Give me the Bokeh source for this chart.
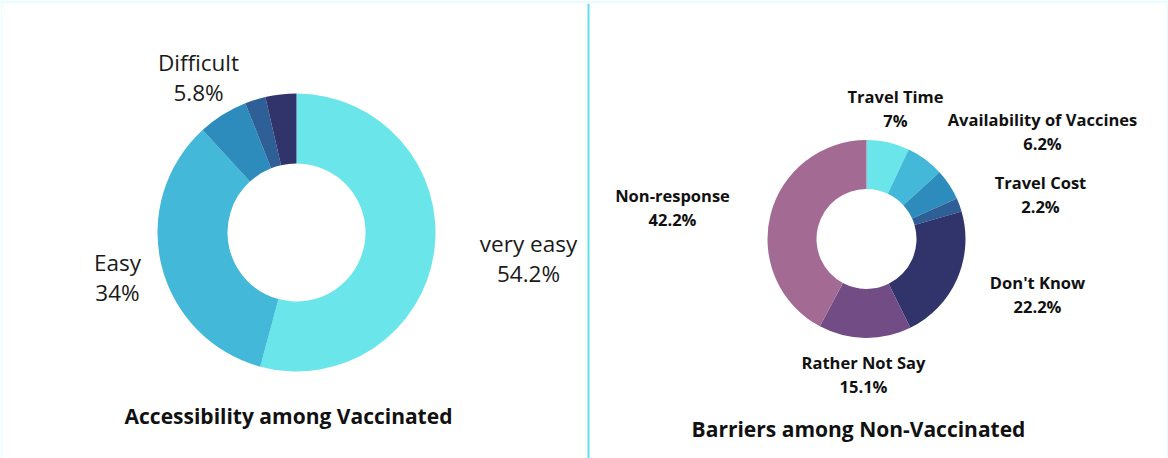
import math
from bokeh.plotting import figure
from bokeh.models import Range1d, Span, ColumnDataSource
from bokeh.core.properties import value
from bokeh.embed import file_html
from bokeh.resources import INLINE

# Accessibility among vaccinated respondents (clockwise from 12 o'clock)
access_labels = ["very easy", "Easy", "Difficult", "", ""]
access_values = [54.2, 34.0, 5.8, 2.4, 3.6]
access_colors = ["#6ae5e9", "#43b8d8", "#2e8cbc", "#2e5f96", "#31346b"]

# Barriers among non-vaccinated respondents (clockwise from 12 o'clock)
barrier_labels = ["Travel Time", "Availability of Vaccines", "", "Travel Cost",
                  "Don't Know", "Rather Not Say", "Non-response"]
barrier_values = [7.0, 6.2, 5.1, 2.2, 22.2, 15.1, 42.2]
barrier_colors = ["#6ae5e9", "#43b8d8", "#2e8cbc", "#2e5f96",
                  "#31346b", "#714c85", "#a36b93"]

W, H = 1168, 458
FONT = "Open Sans"


def sy(y_px):
    # convert a top-down pixel position into the figure's bottom-up y
    return H - y_px


def wedge_source(values, colors, cx, cy):
    total = sum(values)
    starts, ends = [], []
    cum = 0.0
    for v in values:
        starts.append(math.pi / 2 - 2 * math.pi * cum / total)
        cum += v
        ends.append(math.pi / 2 - 2 * math.pi * cum / total)
    return ColumnDataSource(dict(
        x=[cx] * len(values), y=[cy] * len(values),
        start=starts, end=ends, color=colors,
    ))


p = figure(width=W, height=H, output_backend="svg", toolbar_location=None,
           x_range=Range1d(2, W - 2), y_range=Range1d(0, H - 3),
           min_border_left=2, min_border_right=2, min_border_top=3,
           min_border_bottom=0, border_fill_color="#eafcfd",
           background_fill_color="white", outline_line_color=None)
p.axis.visible = False
p.grid.visible = False

# vertical divider between the two panels
p.add_layout(Span(location=588, dimension="height", line_color="#62dfe8",
                  line_width=2))

# left donut
left = wedge_source(access_values, access_colors, 296, sy(232))
p.annular_wedge(x="x", y="y", inner_radius=69, outer_radius=139,
                start_angle="start", end_angle="end", direction="clock",
                fill_color="color", line_color=None, source=left)

# right donut
right = wedge_source(barrier_values, barrier_colors, 866, sy(238.5))
p.annular_wedge(x="x", y="y", inner_radius=50, outer_radius=99,
                start_angle="start", end_angle="end", direction="clock",
                fill_color="color", line_color=None, source=right)

# left labels: name line, value line, placed around the ring
left_pos = {"very easy": (528, 243), "Easy": (117, 262), "Difficult": (198, 62)}
lx, ly, lt = [], [], []
for name, val in zip(access_labels, access_values):
    if name in left_pos:
        x0, y0 = left_pos[name]
        lx += [x0, x0]
        ly += [sy(y0), sy(y0 + 30)]
        lt += [name, f"{val:g}%"]
p.text(x=lx, y=ly, text=lt, text_font=value(FONT), text_font_size="22.5px",
       text_color="#1a1a1a", text_align="center", text_baseline="middle")

right_pos = {
    "Travel Time": (895, 96),
    "Availability of Vaccines": (1042, 119),
    "Travel Cost": (1040, 182),
    "Don't Know": (1037, 282),
    "Rather Not Say": (863, 362),
    "Non-response": (672, 195),
}
rx, ry, rt = [], [], []
for name, val in zip(barrier_labels, barrier_values):
    if name in right_pos:
        x0, y0 = right_pos[name]
        rx += [x0, x0]
        ry += [sy(y0), sy(y0 + 23.5)]
        rt += [name, f"{val:g}%"]
p.text(x=rx, y=ry, text=rt, text_font=value(FONT), text_font_size="16.5px",
       text_font_style="bold", text_color="#111111", text_align="center",
       text_baseline="middle")

# panel titles
p.text(x=[288, 858], y=[sy(415), sy(428)],
       text=["Accessibility among Vaccinated", "Barriers among Non-Vaccinated"],
       text_font=value(FONT), text_font_size="21px", text_font_style="bold",
       text_color="#111111", text_align="center", text_baseline="middle")

open("out.html", "w").write(file_html(p, INLINE))
